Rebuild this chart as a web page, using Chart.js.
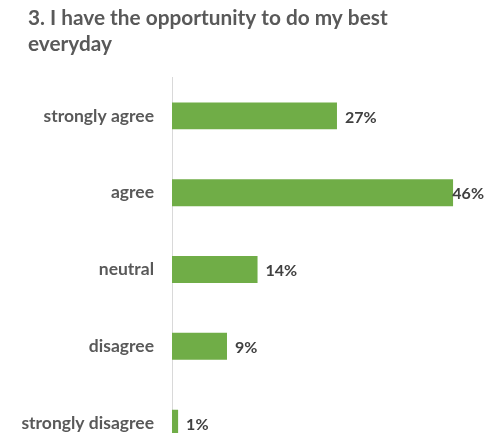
<!DOCTYPE html>
<html>
<head>
<meta charset="utf-8">
<script src="https://cdn.jsdelivr.net/npm/chart.js@4"></script>
<style>
  html, body { margin: 0; padding: 0; background: #ffffff; overflow: hidden; }
  canvas { display: block; }
</style>
</head>
<body>
<canvas id="chart" width="484" height="433"></canvas>
<script>
// Survey question and answer breakdown
const titleLines = ['3. I have the opportunity to do my best', 'everyday'];
const categories = ['strongly agree', 'agree', 'neutral', 'disagree', 'strongly disagree'];
const shares = [27, 46, 14, 9, 1];

const FONT = 'Lato, "Liberation Sans", sans-serif';
const PLOT_TOP = 77.5;
const PLOT_BOTTOM = 461.5;   // the category band runs on past the lower edge

// Title drawn at the top-left, two wrapped lines
const titlePlugin = {
  id: 'leftTitle',
  afterDraw(chart) {
    const ctx = chart.ctx;
    ctx.save();
    ctx.fillStyle = '#595959';
    ctx.font = 'bold 20.8px ' + FONT;
    ctx.textAlign = 'left';
    ctx.textBaseline = 'alphabetic';
    titleLines.forEach((line, i) => ctx.fillText(line, 28, 25 + i * 25.5));
    ctx.restore();
  }
};

// Stretch the category axis so the last row is partly cut by the canvas edge
const extendCategoryAxis = {
  id: 'extendCategoryAxis',
  afterLayout(chart) {
    const y = chart.scales.y;
    y.top = PLOT_TOP;
    y.bottom = PLOT_BOTTOM;
    y.height = PLOT_BOTTOM - PLOT_TOP;
    y.configure();
  }
};

// Percentage labels at the end of each bar, kept inside the canvas
const valueLabels = {
  id: 'valueLabels',
  afterDatasetsDraw(chart) {
    const ctx = chart.ctx;
    const meta = chart.getDatasetMeta(0);
    ctx.save();
    ctx.fillStyle = '#404040';
    ctx.font = 'bold 16px ' + FONT;
    ctx.textAlign = 'left';
    ctx.textBaseline = 'middle';
    meta.data.forEach((bar, i) => {
      const text = shares[i] + '%';
      const w = ctx.measureText(text).width;
      const x = Math.min(bar.x + 8, chart.width - w);
      ctx.fillText(text, x, bar.y + 1.5);
    });
    ctx.restore();
  }
};

new Chart(document.getElementById('chart'), {
  type: 'bar',
  data: {
    labels: categories,
    datasets: [{
      data: shares,
      backgroundColor: '#70ad47',
      borderWidth: 0,
      categoryPercentage: 1,
      barPercentage: 0.35
    }]
  },
  options: {
    indexAxis: 'y',
    responsive: false,
    animation: false,
    layout: { padding: { top: PLOT_TOP, right: 6.5, bottom: 0, left: 0 } },
    plugins: {
      legend: { display: false },
      title: { display: false },
      tooltip: { enabled: false }
    },
    scales: {
      x: {
        display: false,
        min: 0,
        max: 50
      },
      y: {
        afterFit(scale) { scale.width = 172; },
        grid: { display: false, drawTicks: false },
        border: { display: true, color: '#d9d9d9', width: 1 },
        ticks: {
          padding: 18,
          color: '#595959',
          font: { family: FONT, size: 17.5, weight: 'bold' }
        }
      }
    }
  },
  plugins: [extendCategoryAxis, titlePlugin, valueLabels]
});
</script>
</body>
</html>
